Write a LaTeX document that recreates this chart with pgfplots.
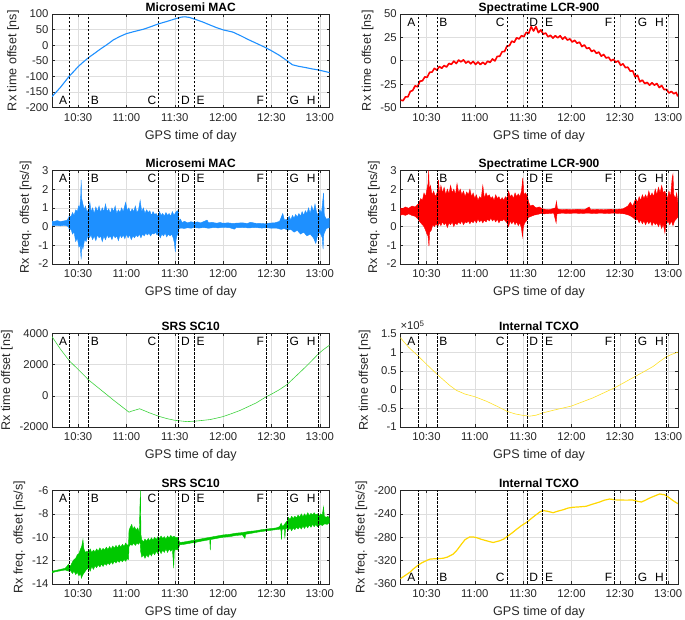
\documentclass[border=0pt]{standalone}
\usepackage{pgfplots}
\pgfplotsset{compat=1.18}
\usepgfplotslibrary{fillbetween}
\usepackage{fontspec}
\setmainfont{Liberation Sans}
\definecolor{mblue}{RGB}{30,144,255}
\definecolor{sred}{RGB}{255,0,0}
\definecolor{sgreenA}{RGB}{60,210,60}
\definecolor{sgreenB}{RGB}{0,200,0}
\definecolor{tyelA}{RGB}{255,225,40}
\definecolor{tyelB}{RGB}{255,215,0}
\definecolor{axgray}{RGB}{38,38,38}

\pgfplotsset{
 panel/.style={
  scale only axis, width=277.5pt, height=93.5pt, anchor=south west,
  xmin=13.8, xmax=186,
  xtick={30,60,90,120,150,180},
  xticklabels={10:30,11:00,11:30,12:00,12:30,13:00},
  grid=major,
  major grid style={draw=black!13, line width=0.5pt},
  tick align=inside,
  major tick length=2.8pt,
  axis line style={draw=axgray, line width=0.5pt},
  every tick/.style={draw=axgray, line width=0.5pt},
  tick label style={font=\fontsize{11.3}{13}\selectfont, text=axgray},
  xticklabel style={yshift=-2.5pt},
  label style={font=\fontsize{12.6}{14}\selectfont, text=axgray},
  xlabel style={yshift=-1.5pt},
  title style={font=\bfseries\fontsize{12}{14}\selectfont, anchor=south, inner sep=0pt, text depth=0pt, yshift=-3.5pt},
  xlabel={GPS time of day},
  /pgf/number format/assume math mode=true,
  /pgf/number format/1000 sep={},
 },
}
\tikzset{
 evline/.style={dash pattern=on 2.5pt off 1.5pt, line width=0.55pt, black},
 evlab/.style={font=\fontsize{12}{14}\selectfont, text=black, inner sep=2.2pt},
}

\newcommand{\evmarks}[1]{%
 \draw[evline] ({axis cs:24.7,0}|-{rel axis cs:0,0}) -- ({axis cs:24.7,0}|-{rel axis cs:0,1});
 \draw[evline] ({axis cs:36.5,0}|-{rel axis cs:0,0}) -- ({axis cs:36.5,0}|-{rel axis cs:0,1});
 \draw[evline] ({axis cs:80,0}|-{rel axis cs:0,0}) -- ({axis cs:80,0}|-{rel axis cs:0,1});
 \draw[evline] ({axis cs:92.4,0}|-{rel axis cs:0,0}) -- ({axis cs:92.4,0}|-{rel axis cs:0,1});
 \draw[evline] ({axis cs:102.1,0}|-{rel axis cs:0,0}) -- ({axis cs:102.1,0}|-{rel axis cs:0,1});
 \draw[evline] ({axis cs:146.8,0}|-{rel axis cs:0,0}) -- ({axis cs:146.8,0}|-{rel axis cs:0,1});
 \draw[evline] ({axis cs:159.7,0}|-{rel axis cs:0,0}) -- ({axis cs:159.7,0}|-{rel axis cs:0,1});
 \draw[evline] ({axis cs:178.8,0}|-{rel axis cs:0,0}) -- ({axis cs:178.8,0}|-{rel axis cs:0,1});
 \node[evlab,anchor=east] at ({axis cs:24.7,0}|-{rel axis cs:0,#1}) {A};
 \node[evlab,anchor=west] at ({axis cs:36.5,0}|-{rel axis cs:0,#1}) {B};
 \node[evlab,anchor=east] at ({axis cs:80,0}|-{rel axis cs:0,#1}) {C};
 \node[evlab,anchor=west] at ({axis cs:92.4,0}|-{rel axis cs:0,#1}) {D};
 \node[evlab,anchor=west] at ({axis cs:102.1,0}|-{rel axis cs:0,#1}) {E};
 \node[evlab,anchor=east] at ({axis cs:146.8,0}|-{rel axis cs:0,#1}) {F};
 \node[evlab,anchor=west] at ({axis cs:159.7,0}|-{rel axis cs:0,#1}) {G};
 \node[evlab,anchor=east] at ({axis cs:178.8,0}|-{rel axis cs:0,#1}) {H};
}

\begin{document}
\begin{tikzpicture}

% ---------- P1 Microsemi MAC time
\begin{axis}[panel, at={(52pt,512.5pt)}, title={Microsemi MAC},
  ymin=-200, ymax=100, ytick={-200,-150,-100,-50,0,50,100},
  ylabel={Rx time offset [ns]}]
\addplot[mblue, line width=1.1pt] coordinates {
(13.8,-165)(16.5,-150)(19.1,-135)(22,-116)(24.6,-99)(27,-86)(30,-69)(33,-55)(36.5,-40)(40,-27)(43.7,-13)(48,2)(51.9,17)(56,28)(60,37)(65,44)(70.5,51)(75,59)(79.7,68)(85,76)(90,84)(94,90)(96.3,91)(99,89)(102,84)(107,75)(111.7,65)(116,56)(120,49)(126,42)(131,30)(136,17)(141,5)(146.4,-8)(150,-18)(155,-33)(159.4,-49)(163,-63)(167,-68)(171.3,-72)(175,-76)(178.5,-79)(182,-83)(186,-88)};
\evmarks{0.075}
\end{axis}

% ---------- P2 Spectratime time
\begin{axis}[panel, at={(400.3pt,512.5pt)}, title={Spectratime LCR-900},
  ymin=-50, ymax=50, ytick={-50,-25,0,25,50},
  ylabel={Rx time offset [ns]}]
\addplot[sred, line width=1.6pt, line join=round] coordinates {
(14,-42.1)(15.5,-42.7)(17,-38.6)(18.5,-38.7)(20,-32.8)(21.5,-31.8)(23,-26.8)(24.5,-27.9)(26,-21.8)(27.5,-21.5)(29,-17.3)(30.5,-17.7)(32,-12.4)(33.5,-12.1)(35,-8.1)(36.5,-10.0)(38,-6.2)(39.5,-8.0)(41,-5.1)(42.5,-6.75)(44,-2.9)(45.5,-3.9)(47,-0.45)(48.5,-3.0)(50,0.7)(51.5,-1.2)(53,1.0)(54.5,-2.5)(56,-0.5)(57.5,-3.3)(59,-0.75)(60.5,-4.0)(62,-1.3)(63.5,-4.1)(65,-1.7)(66.5,-3.9)(68,-0.5)(69.5,-1.8)(71,1.9)(72.5,-0.2)(74,4.7)(75.5,4.8)(77,9.7)(78.5,9.9)(80,15.7)(81.5,16.15)(83,21)(84.5,19.7)(86,24.6)(87.5,23.3)(89,26.8)(90.5,25.8)(92,30.4)(93.5,29.3)(95,36.4)(96.5,31.8)(98,36.5)(99.5,30.05)(101,33)(102.5,28.4)(104,29.7)(105.5,25.6)(107,27.2)(108.5,24.2)(110,26.8)(111.5,24.5)(113,26.75)(114.5,23.0)(116,25.5)(117.5,22.1)(119,23.4)(120.5,20.0)(122,21.9)(123.5,18.7)(125,19.9)(126.5,15.2)(128,16.9)(129.5,13.1)(131,13.9)(132.5,9.9)(134,11.3)(135.5,7.9)(137,9.3)(138.5,4.85)(140,6.7)(141.5,2.9)(143,3.8)(144.5,-0.1)(146,1.5)(147.5,-1.6)(149,-0.2)(150.5,-4.85)(152,-3.3)(153.5,-7.35)(155,-6.9)(156.5,-11.2)(158,-10.7)(159.5,-17.3)(161,-15.5)(162.5,-22.5)(164,-20.7)(165.5,-24.4)(167,-23.2)(168.5,-26.2)(170,-23.6)(171.5,-26.1)(173,-24.4)(174.5,-28.65)(176,-26.5)(177.5,-30.9)(179,-30.6)(180.5,-34.5)(182,-32.8)(183.5,-35.35)(185,-33.9)(186,-38.2)};
\evmarks{0.915}
\end{axis}

% ---------- P3 Microsemi MAC freq
\begin{axis}[panel, at={(52pt,356pt)}, title={Microsemi MAC},
  ymin=-2, ymax=3, ytick={-2,-1,0,1,2,3},
  ylabel={Rx freq. offset [ns/s]}]
\addplot[name path=u3, mblue, line width=0.4pt] coordinates {
(13.8,0.3)(15,0.27)(17,0.32)(19,0.27)(21,0.3)(23,0.34)(24,0.45)(24.7,0.6)(25.5,0.5)(26.5,0.75)(27.5,0.6)(28.5,0.9)(29.5,0.8)(30.3,1.1)(31,1.0)(31.6,1.6)(31.9,2.5)(32.2,1.5)(33,1.2)(33.8,0.9)(34.5,1.1)(35.5,0.8)(36.5,0.9)(37.3,1.3)(38,0.8)(39,1.0)(40,0.7)(41,1.05)(42,0.8)(43,1.1)(44,0.75)(45,1.0)(46,0.8)(47,1.2)(48,0.8)(49,0.95)(50,0.7)(51,1.0)(52,0.8)(53,1.1)(54,0.7)(55,0.9)(56,0.75)(57,1.0)(58,0.8)(59.5,1.3)(60.5,0.85)(61.5,1.0)(62.5,0.75)(63.5,0.95)(64.5,0.8)(65.5,1.1)(66.5,0.75)(67.5,0.9)(68.5,1.4)(69.5,0.8)(70.5,1.0)(71.5,0.7)(72.5,0.9)(73.5,0.75)(74.5,0.85)(75.5,0.6)(76.5,0.8)(77.5,0.65)(78.5,0.7)(79.5,0.55)(80.5,0.8)(81.5,0.6)(82.5,0.7)(83.5,0.55)(84.5,0.75)(85.5,0.6)(86.5,0.7)(87.5,0.55)(88.5,0.8)(89.5,0.6)(90.5,0.75)(91.5,0.85)(92.3,0.8)(92.6,0.3)(93.5,0.4)(94.5,0.22)(96,0.28)(98,0.2)(100,0.26)(102,0.22)(104,0.25)(106,0.2)(108,0.27)(110,0.35)(111,0.2)(113,0.23)(116,0.18)(118,0.22)(120,0.18)(123,0.2)(126,0.17)(129,0.19)(132,0.2)(135,0.17)(137,0.23)(140,0.18)(143,0.17)(146,0.15)(149,0.19)(152,0.2)(155,0.28)(157,0.7)(158,0.35)(160,0.4)(161,0.55)(162,0.35)(163,0.6)(164,0.45)(165,0.65)(166,0.5)(167,0.7)(168,0.55)(169,0.8)(170,0.6)(171,0.85)(172,0.7)(173,1.0)(174,0.7)(175,1.1)(176,0.8)(177,1.2)(178,0.75)(179,0.6)(180,0.9)(181,0.7)(182.3,1.8)(182.8,0.6)(184,0.4)(186,0.45)};
\addplot[name path=l3, mblue, line width=0.4pt] coordinates {
(13.8,0.05)(16,0.07)(19,0.04)(22,0.07)(24,0.0)(24.7,-0.2)(25.5,-0.1)(26.5,-0.4)(27.5,-0.3)(28.5,-0.8)(29.5,-0.6)(30.5,-1.1)(31.3,-1.0)(31.9,-1.75)(32.3,-1.0)(33,-1.2)(34,-0.7)(35,-0.8)(36,-0.5)(37,-0.6)(38,-0.45)(39,-0.7)(40,-0.5)(41,-0.75)(42,-0.45)(43,-0.6)(44,-0.5)(45,-0.8)(46,-0.5)(47,-0.7)(48,-0.45)(49,-0.6)(50,-0.5)(51,-0.7)(52,-0.45)(53,-0.6)(54,-0.5)(55,-0.75)(56,-0.45)(57,-0.6)(58,-0.45)(59,-0.65)(60,-0.4)(61,-0.6)(62,-0.45)(63,-0.7)(64,-0.5)(65,-0.6)(66,-0.45)(67,-0.55)(68,-0.4)(69,-0.6)(70,-0.4)(71,-0.5)(72,-0.35)(73,-0.45)(74,-0.35)(75,-0.5)(76,-0.35)(77,-0.4)(78,-0.3)(79,-0.45)(80,-0.35)(81,-0.6)(82,-0.4)(83,-0.5)(84,-0.35)(85,-0.55)(86,-0.4)(87,-0.5)(88,-0.4)(89,-0.6)(89.8,-0.9)(90.3,-1.35)(90.8,-0.7)(91.5,-0.4)(92.3,-0.5)(92.6,-0.1)(94,-0.08)(96,-0.1)(98,-0.06)(100,-0.09)(102,-0.05)(105,-0.08)(108,-0.05)(111,-0.09)(114,-0.05)(117,-0.07)(120,-0.04)(124,-0.06)(127,-0.14)(128,-0.06)(132,-0.05)(136,-0.07)(140,-0.05)(144,-0.08)(147,-0.06)(150,-0.09)(153,-0.08)(156,-0.15)(158,-0.1)(160,-0.2)(162,-0.15)(164,-0.3)(166,-0.2)(168,-0.4)(170,-0.3)(172,-0.5)(174,-0.4)(176,-0.6)(177.5,-0.9)(178.5,-0.5)(180,-0.3)(181.5,-0.6)(182,-1.2)(182.5,-0.4)(184,-0.1)(186,-0.05)};
\addplot[mblue] fill between[of=u3 and l3];
\evmarks{0.915}
\end{axis}

% ---------- P4 Spectratime freq
\begin{axis}[panel, at={(400.3pt,356pt)}, title={Spectratime LCR-900},
  ymin=-2, ymax=3, ytick={-2,-1,0,1,2,3},
  ylabel={Rx freq. offset [ns/s]}]
\addplot[name path=u4, sred, line width=0.4pt] coordinates {
(13.8,1.0)(15,0.95)(17,1.05)(19,0.98)(21,1.1)(23,1.05)(24.8,1.2)(25.5,1.3)(26.5,1.5)(27.5,1.4)(28.5,1.8)(29.5,1.6)(30.3,2.0)(31,2.3)(31.4,3.0)(31.8,2.0)(32.5,2.2)(33.5,1.7)(34.5,1.9)(35.5,1.6)(36.6,1.8)(37.5,2.5)(38.2,1.7)(39,2.2)(40,1.8)(41,2.1)(42,1.7)(43,2.0)(44,1.75)(45,2.2)(46,1.8)(47,2.0)(48,1.7)(49,2.3)(50,1.8)(51,2.0)(52,1.7)(53,1.9)(54,1.6)(55,1.85)(56,1.7)(57,2.0)(58,1.6)(59,1.8)(60,1.5)(61,1.7)(62,1.4)(63,1.6)(64,1.5)(65,2.2)(66,1.5)(67,1.8)(68,1.6)(69,1.7)(70,1.5)(71,1.6)(72,1.4)(73,1.7)(74,1.5)(75,1.6)(76,1.4)(77,1.55)(78,1.4)(79,1.6)(80,1.5)(81,1.9)(82,1.6)(83,1.7)(84,1.5)(85,1.8)(86,1.6)(87,1.75)(88,1.6)(89,1.9)(89.8,2.6)(90.5,1.7)(91.5,1.8)(92.7,1.6)(93.5,1.3)(94.5,1.1)(96,1.15)(98,1.0)(100,1.05)(102,0.95)(104,0.92)(106,0.9)(108,0.95)(110,1.0)(110.7,1.35)(111.3,0.95)(114,0.9)(117,0.92)(120,0.9)(124,0.93)(128,0.9)(131,1.05)(132,0.9)(136,0.92)(140,0.9)(144,0.93)(148,0.92)(152,0.95)(155,1.1)(156.5,1.3)(158,1.1)(159.9,1.5)(161,1.3)(162,1.6)(163,1.4)(164,1.7)(165,1.5)(166,1.7)(167,1.5)(168,1.9)(169,1.6)(170,1.8)(171,1.6)(172,2.0)(173,1.7)(174,2.1)(175,1.8)(176,2.2)(177,1.8)(178,1.9)(178.6,1.7)(179.5,1.5)(180.5,1.9)(181.5,1.6)(182.5,2.6)(183,2.8)(183.5,1.7)(184.5,1.5)(185.3,1.8)(186,1.3)};
\addplot[name path=l4, sred, line width=0.4pt] coordinates {
(13.8,0.6)(15,0.65)(17,0.6)(19,0.68)(21,0.6)(23,0.55)(24.8,0.4)(25.5,0.3)(26.5,0.2)(27.5,0.1)(28.5,0.0)(29.5,-0.2)(30.3,-0.4)(31,-0.5)(31.6,-1.05)(32,-0.3)(33,-0.2)(34,0.1)(35,0.0)(36,0.15)(37,0.0)(38,0.2)(39,0.05)(40,0.25)(41,0.1)(42,0.2)(43,-0.05)(44,0.2)(45,0.1)(46,0.25)(47,0.0)(48,0.2)(49,0.1)(50,0.25)(51,0.15)(52,0.3)(53,0.1)(54,0.25)(55,0.2)(56,0.3)(57,0.15)(58,0.3)(59,0.2)(60,0.35)(61,0.2)(62,0.4)(63,0.25)(64,0.35)(65,0.2)(66,0.35)(67,0.25)(68,0.4)(69,0.3)(70,0.45)(71,0.3)(72,0.4)(73,0.25)(74,0.4)(75,0.2)(76,0.35)(77,0.3)(78,0.4)(79,0.3)(80,0.2)(81,0.0)(82,0.3)(83,0.15)(84,0.3)(85,0.1)(86,0.25)(87,0.05)(88,0.2)(89,-0.1)(89.6,-0.55)(90.2,0.0)(91,0.2)(92,0.3)(92.7,0.4)(93.5,0.5)(95,0.55)(97,0.62)(99,0.65)(101,0.7)(103,0.68)(106,0.7)(109,0.72)(110.5,0.2)(111,0.68)(114,0.72)(118,0.7)(122,0.72)(126,0.7)(130,0.72)(134,0.7)(138,0.72)(142,0.7)(146,0.72)(150,0.7)(153,0.68)(156,0.6)(158,0.5)(159.9,0.35)(161,0.4)(162,0.2)(163,0.35)(164,0.15)(165,0.3)(166,0.1)(167,0.3)(168,0.15)(169,0.3)(170,0.05)(171,0.25)(172,0.1)(173,0.2)(174,0.0)(175,0.2)(176,-0.1)(177,0.15)(178,-0.35)(178.6,0.1)(180,0.3)(181,0.1)(182,0.3)(183,0.05)(184,0.3)(185,0.4)(186,0.5)};
\addplot[sred] fill between[of=u4 and l4];
\evmarks{0.915}
\end{axis}

% ---------- P5 SRS SC10 time
\begin{axis}[panel, at={(52pt,193pt)}, title={SRS SC10},
  ymin=-2000, ymax=4000, ytick={-2000,0,2000,4000},
  ylabel={Rx time offset [ns]}]
\addplot[sgreenA, line width=0.6pt] coordinates {
(13.8,3800)(19,3000)(24.6,2240)(30,1700)(36.6,1010)(43.8,410)(52,-280)(61.6,-1050)(63,-990)(68.2,-830)(74,-1080)(80,-1310)(85,-1460)(90,-1570)(97.5,-1655)(102.1,-1630)(106,-1590)(111.8,-1525)(116,-1430)(120,-1330)(125,-1150)(130.3,-945)(135,-720)(140.6,-450)(146.7,-60)(150,110)(155,400)(159.7,730)(164,1150)(169.6,1700)(174,2150)(178.9,2670)(182,2950)(186,3250)};
\evmarks{0.915}
\end{axis}

% ---------- P6 Internal TCXO time (values in units of 10^5 ns)
\begin{axis}[panel, name=p6, at={(400.3pt,193pt)}, title={Internal TCXO},
  ymin=-1, ymax=1.5, ytick={-1,-0.5,0,0.5,1,1.5},
  ylabel={Rx time offset [ns]}]
\addplot[tyelA, line width=0.6pt] coordinates {
(13.8,1.39)(19,1.13)(24.8,0.90)(30,0.68)(36.6,0.41)(44.5,0.11)(48.6,-0.02)(54,-0.12)(60,-0.19)(67.2,-0.31)(74,-0.45)(80,-0.58)(85,-0.65)(90,-0.69)(94.1,-0.71)(98,-0.685)(102.4,-0.62)(110,-0.54)(120,-0.44)(133.4,-0.22)(146.9,0.05)(159.9,0.36)(165,0.48)(170.7,0.62)(175,0.76)(178.6,0.87)(182,0.94)(186,1.0)};
\evmarks{0.915}
\end{axis}
\node[anchor=base west, inner sep=0pt, font=\fontsize{11.3}{13}\selectfont, text=axgray] at ([yshift=3.5pt]p6.north west) {×10\textsuperscript{5}};

% ---------- P7 SRS SC10 freq
\begin{axis}[panel, at={(52pt,36pt)}, title={SRS SC10},
  ymin=-14, ymax=-6, ytick={-14,-12,-10,-8,-6},
  ylabel={Rx freq. offset [ns/s]}]
\addplot[name path=u7, sgreenB, line width=0.4pt] coordinates {
(13.8,-12.9)(16,-12.85)(18,-12.78)(20,-12.72)(22,-12.65)(23,-12.5)(24,-12.3)(24.6,-12.55)(25.5,-12.4)(26.5,-12.1)(27.5,-11.9)(28.5,-11.8)(29.5,-11.5)(30.5,-11.4)(31.5,-11.0)(32.2,-10.8)(33,-10.2)(33.6,-11.0)(34.5,-11.3)(35.5,-11.2)(36.6,-11.3)(37.5,-11.0)(38.5,-11.3)(39.5,-11.1)(40.5,-11.25)(41.5,-11.0)(42.5,-11.2)(43.5,-10.9)(44.5,-11.15)(45.5,-10.95)(46.5,-11.1)(47.5,-10.85)(48.5,-11.05)(49.5,-10.8)(50.5,-11.0)(51.5,-10.75)(52.5,-10.95)(53.5,-10.7)(54.5,-10.9)(55.5,-10.65)(56.5,-10.85)(57.5,-10.6)(58.5,-10.8)(59.5,-10.5)(60.5,-10.7)(61.3,-10.6)(61.6,-9.4)(62.5,-9.1)(63.3,-8.9)(64,-9.3)(65,-9.1)(66,-9.4)(67,-9.2)(68,-9.6)(68.4,-7.2)(68.7,-6.0)(69,-9.8)(69.5,-10.2)(70.5,-10.4)(71.5,-10.15)(72.5,-10.35)(73.5,-10.1)(74.5,-10.3)(75.5,-10.05)(76.5,-10.25)(77.5,-10.0)(78.5,-10.2)(79.5,-9.95)(80.5,-10.1)(81.5,-9.9)(82.5,-10.1)(83.5,-9.95)(84.5,-10.15)(85.5,-9.9)(86.5,-10.05)(87.5,-9.85)(88.5,-10.0)(89.5,-9.9)(90.5,-10.05)(91.5,-10.0)(92.4,-10.2)(93,-10.45)(96,-10.4)(100,-10.3)(104,-10.2)(108,-10.1)(112,-10.0)(116,-9.9)(120,-9.8)(124,-9.75)(128,-9.65)(132,-9.6)(136,-9.5)(140,-9.45)(144,-9.35)(147,-9.3)(150,-9.25)(153,-9.2)(155,-9.1)(156,-8.8)(157,-9.1)(158,-8.9)(159.7,-8.6)(160.5,-8.3)(161.5,-8.5)(162.5,-8.2)(163.5,-8.4)(164.5,-8.2)(165.5,-8.35)(166.5,-8.1)(167.5,-8.3)(168.5,-8.0)(169.5,-8.25)(170.5,-8.0)(171.5,-8.2)(172.5,-7.9)(173.5,-8.15)(174.5,-7.95)(175.5,-8.1)(176.5,-7.9)(177.5,-8.1)(178.5,-8.0)(179.5,-8.2)(180.5,-8.0)(181.5,-8.1)(182.3,-7.4)(182.8,-8.2)(184,-8.3)(185,-8.2)(186,-8.4)};
\addplot[name path=l7, sgreenB, line width=0.4pt] coordinates {
(13.8,-13.05)(16,-12.95)(18,-12.9)(20,-12.85)(22,-12.8)(23,-12.85)(24,-12.9)(24.5,-12.75)(25.5,-12.9)(26.5,-13.1)(27.5,-12.9)(28.5,-13.2)(29.5,-13.0)(30.5,-13.3)(31.5,-13.1)(32,-13.5)(33,-13.2)(34,-13.0)(35,-12.8)(36.6,-12.6)(37.5,-12.9)(38.5,-12.5)(39.5,-12.75)(40.5,-12.45)(41.5,-12.6)(42.5,-12.35)(43.5,-12.55)(44.5,-12.3)(45.5,-12.5)(46.5,-12.25)(47.5,-12.4)(48.5,-12.2)(49.5,-12.35)(50.5,-12.1)(51.5,-12.3)(52.5,-12.05)(53.5,-12.2)(54.5,-12.0)(55.5,-12.15)(56.5,-11.95)(57.5,-12.1)(58.5,-11.9)(59.5,-12.05)(60.5,-11.85)(61.3,-11.9)(61.6,-10.8)(62.5,-10.6)(63.5,-10.7)(64.5,-10.5)(65.5,-10.7)(66.5,-10.5)(67.5,-10.6)(68.5,-10.4)(68.8,-11.2)(69.5,-11.7)(70.5,-11.5)(71.5,-11.8)(72.5,-11.5)(73.5,-11.7)(74.5,-11.4)(75.5,-11.6)(76.5,-11.3)(77.5,-11.5)(78.5,-11.2)(79.5,-11.4)(80.5,-11.1)(81.5,-11.4)(82.5,-11.1)(83.5,-11.3)(84.5,-11.0)(85.5,-11.3)(86.5,-11.0)(87.5,-11.2)(88.5,-11.0)(89,-12.0)(89.3,-12.65)(89.7,-11.2)(90.5,-11.0)(91.5,-11.1)(92.4,-10.9)(93,-10.65)(96,-10.6)(100,-10.5)(102,-10.45)(102.3,-10.8)(102.6,-10.45)(106,-10.35)(110,-10.25)(111.7,-10.2)(112,-11.1)(112.3,-10.2)(116,-10.1)(120,-10.0)(124,-9.95)(128,-9.85)(132,-9.8)(133.5,-10.1)(134,-9.75)(138,-9.65)(142,-9.55)(147,-9.45)(150,-9.4)(153,-9.35)(155.8,-9.3)(156.2,-10.2)(156.6,-9.3)(158,-9.3)(158.3,-10.1)(158.7,-9.3)(159.7,-9.2)(160.5,-9.4)(161.5,-9.2)(162.5,-9.45)(163.5,-9.2)(164.5,-9.35)(165.5,-9.15)(166.5,-9.3)(167.5,-9.1)(168.5,-9.3)(169.5,-9.05)(170.5,-9.25)(171.5,-9.0)(172.5,-9.2)(173.5,-8.95)(174.5,-9.15)(175.5,-8.9)(176.5,-9.1)(177.5,-8.9)(178.5,-9.1)(179.5,-9.0)(180.5,-8.9)(181.5,-9.0)(183,-8.85)(184.5,-8.9)(186,-8.75)};
\addplot[sgreenB] fill between[of=u7 and l7];
\evmarks{0.915}
\end{axis}

% ---------- P8 Internal TCXO freq
\begin{axis}[panel, at={(400.3pt,36pt)}, title={Internal TCXO},
  ymin=-360, ymax=-200, ytick={-360,-320,-280,-240,-200},
  ylabel={Rx freq. offset [ns/s]}]
\addplot[tyelB, line width=1.2pt] coordinates {
(13.8,-351)(16.5,-346)(19.7,-340)(22,-334)(24.8,-328)(27,-324)(30,-320)(32,-317.5)(34.1,-317)(37,-316.5)(40.3,-316)(43,-314)(46.6,-309)(49,-302)(51.7,-292)(54,-284)(56.9,-279.4)(59,-279.5)(61,-280.6)(64,-283.5)(67.2,-286)(71.4,-289)(75.5,-286)(78,-283)(80,-279)(83,-273)(85.9,-266.5)(89,-260)(92.7,-253.5)(95.5,-247)(98.3,-241)(100.5,-236.5)(102.4,-234.4)(105,-235.5)(108.6,-238)(112,-235)(114.8,-233)(118,-230)(121,-228.7)(125,-228)(129.2,-227)(133,-223.5)(137.5,-219.7)(140.5,-216.5)(143.7,-214.6)(147,-216)(149.9,-216.3)(154,-216.5)(158.1,-216.3)(161,-218.5)(163.4,-219.7)(166,-216.5)(168.5,-213)(171.5,-209.5)(174.7,-206)(177.8,-207.3)(180.5,-212)(183.1,-217.5)(186,-222.5)};
\evmarks{0.075}
\end{axis}
\pgfresetboundingbox
\useasboundingbox (0,0) rectangle (685pt,620pt);
\end{tikzpicture}
\end{document}
